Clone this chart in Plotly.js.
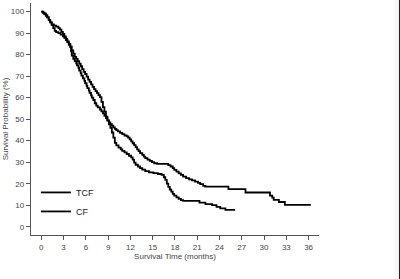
<!DOCTYPE html>
<html>
<head>
<meta charset="utf-8">
<script src="https://cdn.plot.ly/plotly-3.0.1.min.js"></script>
<style>
  html, body { margin: 0; padding: 0; background: #fff; }
  #wrap { position: relative; width: 400px; height: 279px; overflow: hidden; }
  #chart { width: 400px; height: 279px; }
  #edge { position: absolute; top: 0; right: 0; width: 7px; height: 279px;
          background: linear-gradient(to right, rgba(0,0,0,0), rgba(0,0,0,0.06));
          border-right: 1px solid #222; box-sizing: border-box; }
</style>
</head>
<body>
<div id="wrap">
  <div id="chart"></div>
  <div id="edge"></div>
</div>
<script>
// Kaplan-Meier overall survival, months vs. % surviving
const seriesNames = ["TCF", "CF"];

const tcfTime = [0, 0.2, 0.4, 0.6, 0.8, 1.0, 1.2, 1.4, 1.6, 1.8, 2.0, 2.3, 2.6, 2.9, 3.1,
  3.3, 3.5, 3.7, 3.9, 4.0, 4.1, 4.3, 4.5, 4.7, 4.8, 5.0, 5.1, 5.3, 5.4, 5.6, 5.8, 5.9,
  6.1, 6.2, 6.4, 6.5, 6.7, 6.8, 7.0, 7.2, 7.4, 7.6, 7.9, 8.1, 8.3, 8.5, 8.7, 8.9, 9.1,
  9.3, 9.5, 9.7, 9.9, 10.1, 10.3, 10.6, 10.9, 11.2, 11.5, 11.7, 11.9, 12.1, 12.3, 12.5,
  12.7, 12.9, 13.1, 13.3, 13.6, 13.8, 14.0, 14.3, 14.6, 14.9, 15.2, 15.6, 17.1, 17.4,
  17.7, 17.9, 18.2, 18.5, 18.8, 19.1, 19.5, 19.9, 20.3, 20.7, 21.1, 21.4, 21.8, 22.1,
  25.2, 27.5, 30.8, 31.1, 31.3, 32.0, 32.8, 36.3];
const tcfSurv = [100, 99.5, 99, 98.2, 97.3, 96.2, 95, 93.8, 92.3, 91, 90.5, 90, 89.3, 88.5, 87.8,
  86.8, 85.8, 84.6, 83.5, 81.5, 79.5, 78, 77, 76, 75, 73.8, 72.6, 71.4, 70.2, 69, 67.8, 66.7,
  65.5, 64.4, 63.3, 62.2, 61.1, 60, 58.9, 57.4, 56.3, 55.5, 54.5, 53.6, 52.7, 51.5, 50.5, 49.4, 48.5,
  47.7, 47, 46.2, 45.5, 44.9, 44.3, 43.6, 43, 42.4, 42, 41.4, 40.6, 39.7, 38.8, 37.9,
  37, 36, 35.1, 34.2, 33.4, 32.6, 31.9, 31.2, 30.6, 30, 29.5, 29.2, 28.6, 28,
  27.2, 26.4, 25.6, 24.8, 24.1, 23.3, 22.6, 22, 21.5, 21, 20.4, 19.8, 19, 18.6,
  17.5, 15.9, 14.5, 13.5, 12.5, 11.5, 10.2, 10.2];

const cfTime = [0, 0.2, 0.4, 0.6, 0.8, 1.0, 1.2, 1.4, 1.7, 2.0, 2.3, 2.5, 2.7, 2.9, 3.1,
  3.3, 3.5, 3.7, 3.9, 4.1, 4.3, 4.5, 4.7, 4.9, 5.1, 5.3, 5.5, 5.7, 5.9, 6.1, 6.3, 6.5,
  6.7, 6.9, 7.1, 7.3, 7.5, 7.7, 7.9, 8.1, 8.3, 8.5, 8.7, 8.9, 9.1, 9.3, 9.5, 9.7, 9.9,
  10.1, 10.4, 10.7, 10.9, 11.2, 11.5, 11.8, 12.1, 12.3, 12.5, 12.7, 13.0, 13.3, 13.6,
  14.0, 14.5, 15.1, 15.7, 16.2, 16.5, 16.7, 16.9, 17.1, 17.3, 17.5, 17.7, 17.9, 18.2,
  18.5, 18.8, 19.1, 21.3, 22.1, 23.0, 23.6, 24.1, 24.8, 26.1];
const cfSurv = [100, 99.5, 99, 98.2, 97.3, 96.2, 95, 94, 93.5, 93, 92.3, 91.6, 90.6, 89.6, 88.5,
  87.3, 86.2, 85, 83.7, 82, 80.5, 79, 78, 77, 75.8, 74.6, 73.3, 72, 71, 69.8, 68.4, 67.3,
  66.2, 65, 64, 63, 62.1, 61.2, 60.2, 58, 55.6, 53.5, 51.2, 49.3, 47.6, 46, 43.8, 41.4, 39,
  37.8, 36.8, 36, 35.3, 34.6, 33.8, 33, 32.2, 31.2, 29.8, 28.8, 28, 27.2, 26.5,
  25.8, 25.3, 24.9, 24.5, 24.1, 23, 21.8, 20, 18.5, 17.2, 16.3, 15.3, 14.5, 13.6,
  12.9, 12.4, 12, 11.2, 10.5, 10, 9.2, 8.5, 7.8, 7.8];

const xTicks = [0, 3, 6, 9, 12, 15, 18, 21, 24, 27, 30, 33, 36];
const yTicks = [0, 10, 20, 30, 40, 50, 60, 70, 80, 90, 100];

const lineStyle = { color: "#000", width: 1.8, shape: "hv" };

const traces = [
  { x: tcfTime, y: tcfSurv, name: seriesNames[0], mode: "lines", line: lineStyle },
  { x: cfTime, y: cfSurv, name: seriesNames[1], mode: "lines", line: lineStyle }
];

const tickFont = { family: "Liberation Sans, Arial, sans-serif", size: 8, color: "#444" };

const layout = {
  width: 400, height: 279,
  margin: { l: 31, r: 81, t: 3, b: 44, pad: 0 },
  paper_bgcolor: "#fff", plot_bgcolor: "#fff",
  showlegend: true,
  legend: {
    x: 0.017, y: 0.246, xanchor: "left", yanchor: "top",
    bgcolor: "rgba(0,0,0,0)", tracegroupgap: 0,
    font: { family: "Liberation Sans, Arial, sans-serif", size: 9, color: "#222" }
  },
  xaxis: {
    range: [-1.39, 37.4], tickvals: xTicks, ticktext: xTicks.map(String),
    showgrid: false, zeroline: false, showline: true, linecolor: "#555", linewidth: 1.3,
    ticks: "outside", ticklen: 4, tickwidth: 1, tickcolor: "#555",
    tickfont: tickFont, ticklabelstandoff: 0,
    title: { text: "Survival Time (months)", font: tickFont, standoff: 2 }
  },
  yaxis: {
    range: [-3.85, 104], tickvals: yTicks, ticktext: yTicks.map(String),
    showgrid: false, zeroline: false, showline: true, linecolor: "#555", linewidth: 1.3,
    ticks: "outside", ticklen: 4, tickwidth: 1, tickcolor: "#555",
    tickfont: tickFont,
    title: { text: "Survival Probability (%)", font: tickFont, standoff: 1 }
  }
};

Plotly.newPlot("chart", traces, layout, { staticPlot: true, displayModeBar: false });
</script>
</body>
</html>
